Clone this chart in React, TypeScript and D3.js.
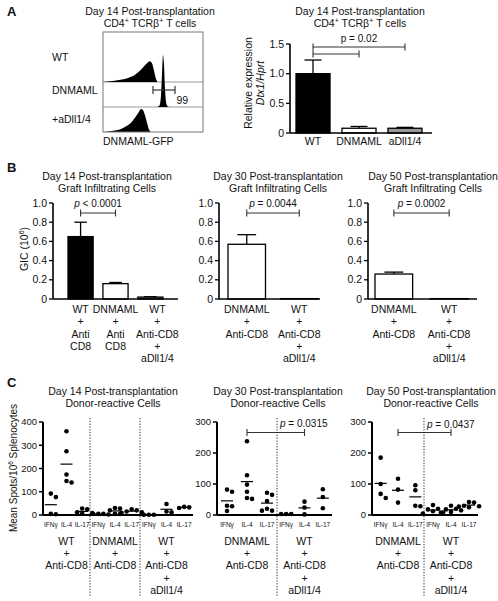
import React from 'react';
import * as d3 from 'd3';

const FONT = '"Liberation Sans", Arial, Helvetica, sans-serif';

// ---------------- Panel A: flow histograms ----------------
const flowSamples = ['WT', 'DNMAML', '+aDll1/4'];
const wtHistChannel = [0, 4, 10, 16, 22, 28, 32, 36, 40, 43, 45, 47, 49, 51, 53, 55];
const wtHistCount = [0, 1, 2, 4, 6, 10, 14, 20, 28, 34, 38, 40, 36, 22, 6, 0];
const dnHistChannel = [54, 56, 57, 58, 59, 60, 61, 62, 63, 64, 66];
const dnHistCount = [0, 2, 6, 22, 62, 100, 82, 36, 10, 3, 0];
const adHistChannel = [0, 5, 12, 18, 24, 28, 31, 34, 36, 38, 40, 42, 44, 46, 48];
const adHistCount = [0, 1, 3, 6, 12, 18, 25, 33, 39, 44, 42, 32, 18, 5, 0];
const gateChannels = [50, 72];
const gateLabel = '99';
const flowAxisLabel = 'DNMAML-GFP';

// ---------------- Panel A: Dtx1 expression ----------------
const aCategories = ['WT', 'DNMAML', 'aDll1/4'];
const aValues = [1.0, 0.08, 0.08];
const aErrors = [0.23, 0.03, 0.015];
const aTickValues = [0, 0.5, 1.0, 1.5];
const aTickLabels = ['0', '0.5', '1.0', '1.5'];
const aPValue = 'p = 0.02';

// ---------------- Panel B: graft infiltrating cells ----------------
const bTickValues = [0, 0.2, 0.4, 0.6, 0.8, 1.0];
const bTickLabels = ['0', '0.2', '0.4', '0.6', '0.8', '1.0'];
const b14Categories = ['WT+AntiCD8', 'DNMAML+AntiCD8', 'WT+AntiCD8+aDll'];
const b14Labels = [['WT', '+', 'Anti', 'CD8'], ['DNMAML', '+', 'Anti', 'CD8'], ['WT', '+', 'Anti-CD8', '+', 'aDll1/4']];
const b14Values = [0.65, 0.16, 0.02];
const b14Errors = [0.15, 0.012, 0.004];
const b30Categories = ['DNMAML+AntiCD8', 'WT+AntiCD8+aDll'];
const b30Labels = [['DNMAML', '+', 'Anti-CD8'], ['WT', '+', 'Anti-CD8', '+', 'aDll1/4']];
const b30Values = [0.57, 0.004];
const b30Errors = [0.1, 0];
const b50Categories = ['DNMAML+AntiCD8', 'WT+AntiCD8+aDll'];
const b50Labels = [['DNMAML', '+', 'Anti-CD8'], ['WT', '+', 'Anti-CD8', '+', 'aDll1/4']];
const b50Values = [0.26, 0.004];
const b50Errors = [0.02, 0];
const bPValues = ['< 0.0001', '= 0.0044', '= 0.0002'];

// ---------------- Panel C: ELISPOT ----------------
const cytokines = ['IFNγ', 'IL-4', 'IL-17'];
const c14Ticks = [0, 100, 200, 300, 400];
const c3050Ticks = [0, 100, 200, 300];
const c14Labels = [['WT', '+', 'Anti-CD8'], ['DNMAML', '+', 'Anti-CD8'], ['WT', '+', 'Anti-CD8', '+', 'aDll1/4']];
const c14WtAntiCD8 = [[77, 92, 5, 3], [360, 274, 174, 140, 146], [28, 24, 12, 8, 6]];
const c14DnAntiCD8 = [[2, 5, 5, 4], [28, 30, 20, 5, 4], [25, 20, 15, 12, 10]];
const c14WtAdll = [[1, 1, 1], [47, 12, 15], [35, 30, 33]];
const c30Labels = [['DNMAML', '+', 'Anti-CD8'], ['WT', '+', 'Anti-CD8', '+', 'aDll1/4']];
const c30DnAntiCD8 = [[75, 82, 30, 28, 13], [238, 128, 98, 75, 52, 55], [72, 65, 45, 20, 14, 14]];
const c30WtAdll = [[3, 3, 3], [43, 2, 24], [83, 22, 58]];
const c50Labels = [['DNMAML', '+', 'Anti-CD8'], ['WT', '+', 'Anti-CD8', '+', 'aDll1/4']];
const c50DnAntiCD8 = [[185, 100, 68, 55], [117, 82, 40], [96, 80, 28, 30]];
const c50WtAdll = [[32, 20, 18, 12, 8, 5], [30, 10, 15, 20, 18, 8], [42, 40, 30, 28, 25, 27]];
const cPValues = ['= 0.0315', '= 0.0437'];

// ---------------- helpers ----------------
function Title({ x, y, lines }: { x: number; y: number; lines: React.ReactNode[] }) {
  return (
    <g>
      {lines.map((l, i) => (
        <text key={i} x={x} y={y + i * 12} textAnchor="middle" dy="0.35em" fontSize={10.5}>{l}</text>
      ))}
    </g>
  );
}

function Bracket({ x1, x2, y }: { x1: number; x2: number; y: number }) {
  return (
    <g stroke="#333" strokeWidth={1.1}>
      <line x1={x1} x2={x2} y1={y} y2={y} />
      <line x1={x1} x2={x1} y1={y - 3.5} y2={y + 3.5} />
      <line x1={x2} x2={x2} y1={y - 3.5} y2={y + 3.5} />
    </g>
  );
}

type BarProps = {
  axisX: number; axisEnd: number; yBase: number; yTop: number; max: number;
  tickValues: number[]; tickLabels: string[];
  categories: string[]; values: number[]; errors: number[]; fills: string[];
  bandRange: [number, number]; padding: number;
  labels: string[][]; labelY: number; labelDy: number; labelDx?: number[];
  brackets: { from: number; to: number; y: number }[];
  pText: string; pY: number; italic: boolean;
};

function BarPanel(p: BarProps) {
  const y = d3.scaleLinear().domain([0, p.max]).range([p.yBase, p.yTop]);
  const x = d3.scaleBand<string>().domain(p.categories).range(p.bandRange).paddingInner(p.padding).paddingOuter(0);
  const bw = x.bandwidth();
  const cx = (i: number) => (x(p.categories[i]) as number) + bw / 2;
  const b0 = p.brackets[0];
  return (
    <g>
      {p.categories.map((c, i) => {
        const bx = x(c) as number;
        const top = y(p.values[i]);
        const errTop = y(p.values[i] + p.errors[i]);
        return (
          <g key={c}>
            {p.errors[i] > 0 && (
              <g stroke="#000" strokeWidth={1.3}>
                <line x1={bx + bw / 2} x2={bx + bw / 2} y1={top} y2={errTop} />
                <line x1={bx + bw / 2 - bw * 0.25} x2={bx + bw / 2 + bw * 0.25} y1={errTop} y2={errTop} />
              </g>
            )}
            <rect x={bx} y={top} width={bw} height={Math.max(0.01, p.yBase - top)} fill={p.fills[i]} stroke="#000" strokeWidth={1.3} />
          </g>
        );
      })}
      <line x1={p.axisX} x2={p.axisX} y1={p.yTop} y2={p.yBase} stroke="#000" strokeWidth={1.6} />
      <line x1={p.axisX} x2={p.axisEnd} y1={p.yBase} y2={p.yBase} stroke="#000" strokeWidth={1.6} />
      {p.tickValues.map((t, i) => (
        <g key={t}>
          <line x1={p.axisX - 4} x2={p.axisX} y1={y(t)} y2={y(t)} stroke="#000" strokeWidth={1.3} />
          <text x={p.axisX - 6} y={y(t)} dy="0.35em" textAnchor="end" fontSize={10.5}>{p.tickLabels[i]}</text>
        </g>
      ))}
      {p.labels.map((lines, i) => (
        <g key={i}>
          {lines.map((l, j) => (
            <text key={j} x={cx(i) + (p.labelDx ? p.labelDx[i] : 0)} y={p.labelY + j * p.labelDy} dy="0.35em" textAnchor="middle" fontSize={10.5}>{l}</text>
          ))}
        </g>
      ))}
      {p.brackets.map((b, i) => (
        <Bracket key={i} x1={cx(b.from)} x2={cx(b.to)} y={b.y} />
      ))}
      <text x={(cx(b0.from) + cx(b0.to)) / 2} y={p.pY} dy="0.35em" textAnchor="middle" fontSize={10}>
        {p.italic ? (<><tspan fontStyle="italic">p</tspan> {p.pText}</>) : p.pText}
      </text>
    </g>
  );
}

function swarm(values: number[], cx: number, y: (v: number) => number, r: number) {
  const placed: { x: number; y: number; v: number }[] = [];
  const sorted = [...values].sort((a, b) => b - a);
  const offsets = [0, 1, -1, 2, -2, 3, -3];
  for (const v of sorted) {
    const py = y(v);
    let px = cx;
    for (const o of offsets) {
      px = cx + o * r * 2.2;
      if (placed.every((q) => Math.hypot(q.x - px, q.y - py) >= r * 2.1)) break;
    }
    placed.push({ x: px, y: py, v });
  }
  return placed;
}

type DotProps = {
  bounds: number[]; yMax: number; ticks: number[]; groups: number[][][]; labels: string[][];
  bracket?: { from: [number, number]; to: [number, number]; y: number; text: string; textY: number };
};

function DotPanel(p: DotProps) {
  const yBase = 515, yTop = 422;
  const y = d3.scaleLinear().domain([0, p.yMax]).range([yBase, yTop]);
  const axisX = p.bounds[0];
  const axisEnd = p.bounds[p.bounds.length - 1];
  const subs = p.groups.map((_, g) =>
    d3.scalePoint<string>().domain(cytokines).range([p.bounds[g], p.bounds[g + 1]]).padding(0.5)
  );
  const r = 2.3;
  return (
    <g>
      {p.bounds.slice(1, -1).map((bx) => (
        <line key={bx} x1={bx} x2={bx} y1={418} y2={596} stroke="#333" strokeWidth={1} strokeDasharray="1.3,1.5" />
      ))}
      {p.groups.map((grp, g) => (
        <g key={g}>
          {grp.map((vals, k) => {
            const cx = subs[g](cytokines[k]) as number;
            const pts = swarm(vals, cx, y, r);
            const m = d3.mean(vals) as number;
            return (
              <g key={k}>
                {pts.map((pt, i) => (<circle key={i} cx={pt.x} cy={pt.y} r={r} fill="#000" />))}
                <line x1={cx - 6} x2={cx + 6} y1={y(m)} y2={y(m)} stroke="#000" strokeWidth={1.2} />
                <text x={cx} y={525} dy="0.35em" textAnchor="middle" fontSize={6.5}>{cytokines[k]}</text>
              </g>
            );
          })}
          {p.labels[g].map((l, j) => (
            <text key={j} x={(p.bounds[g] + p.bounds[g + 1]) / 2} y={541 + j * 12.4} dy="0.35em" textAnchor="middle" fontSize={10.5}>{l}</text>
          ))}
        </g>
      ))}
      <line x1={axisX} x2={axisX} y1={yTop} y2={yBase} stroke="#000" strokeWidth={2} />
      <line x1={axisX} x2={axisEnd} y1={yBase} y2={yBase} stroke="#000" strokeWidth={2} />
      {p.ticks.map((t) => (
        <g key={t}>
          <line x1={axisX - 4} x2={axisX} y1={y(t)} y2={y(t)} stroke="#000" strokeWidth={1.5} />
          <text x={axisX - 6} y={y(t)} dy="0.35em" textAnchor="end" fontSize={9.5}>{String(t)}</text>
        </g>
      ))}
      {p.bracket && (() => {
        const b = p.bracket!;
        const x1 = subs[b.from[0]](cytokines[b.from[1]]) as number;
        const x2 = subs[b.to[0]](cytokines[b.to[1]]) as number;
        return (
          <g>
            <Bracket x1={x1} x2={x2} y={b.y} />
            <text x={p.bounds[1] + 3} y={b.textY} dy="0.35em" fontSize={10}>
              <tspan fontStyle="italic">p</tspan> {b.text}
            </text>
          </g>
        );
      })()}
    </g>
  );
}

function FlowPanel() {
  const x0 = 103, x1 = 203, top = 32, bottom = 132;
  const bases = [82, 107, 132];
  const fx = d3.scaleLinear().domain([0, 100]).range([x0, x1]);
  const fh = d3.scaleLinear().domain([0, 100]).range([0, 52]);
  const hists: [number[], number[]][] = [
    [wtHistChannel, wtHistCount],
    [dnHistChannel, dnHistCount],
    [adHistChannel, adHistCount],
  ];
  const labelY = [57, 90, 119];
  const gy = 90;
  return (
    <g>
      <line x1={x0} x2={x1} y1={bases[0]} y2={bases[0]} stroke="#999" strokeWidth={1} />
      <line x1={x0} x2={x1} y1={bases[1]} y2={bases[1]} stroke="#999" strokeWidth={1} />
      {hists.map(([ch, cnt], i) => {
        const base = bases[i];
        const area = d3.area<number>()
          .x((_, j) => fx(ch[j]))
          .y0(base)
          .y1((n) => base - fh(n))
          .curve(d3.curveMonotoneX);
        return <path key={i} d={area(cnt) || ''} fill="#000" />;
      })}
      <rect x={x0} y={top} width={x1 - x0} height={bottom - top} fill="none" stroke="#777" strokeWidth={1} />
      <g stroke="#333" strokeWidth={1.2}>
        <line x1={fx(gateChannels[0])} x2={fx(gateChannels[1])} y1={gy} y2={gy} />
        <line x1={fx(gateChannels[0])} x2={fx(gateChannels[0])} y1={gy - 4} y2={gy + 4} />
        <line x1={fx(gateChannels[1])} x2={fx(gateChannels[1])} y1={gy - 4} y2={gy + 4} />
      </g>
      <text x={fx(gateChannels[1]) + 1.5} y={100} dy="0.35em" fontSize={10.5}>{gateLabel}</text>
      {flowSamples.map((s, i) => (
        <text key={s} x={52} y={labelY[i]} dy="0.35em" fontSize={10.5}>{s}</text>
      ))}
      <text x={x0} y={141} dy="0.35em" fontSize={10.5}>{flowAxisLabel}</text>
    </g>
  );
}

export default function App() {
  const cd4Title = (
    <>
      CD4<tspan dy={-4} fontSize={7}>+</tspan>
      <tspan dy={4}> TCRβ</tspan>
      <tspan dy={-4} fontSize={7}>+</tspan>
      <tspan dy={4}> T cells</tspan>
    </>
  );
  return (
    <svg width={498} height={601} style={{ position: 'absolute', left: 0, top: 0 }} fontFamily={FONT} fill="#111">
      <rect width={498} height={601} fill="#fff" />
      {/* Panel letters */}
      <text x={7} y={11} dy="0.35em" fontSize={13} fontWeight="bold">A</text>
      <text x={7} y={167} dy="0.35em" fontSize={13} fontWeight="bold">B</text>
      <text x={7} y={382} dy="0.35em" fontSize={13} fontWeight="bold">C</text>

      {/* Panel A */}
      <Title x={150} y={11} lines={['Day 14 Post-transplantation', cd4Title]} />
      <FlowPanel />
      <Title x={360} y={11} lines={['Day 14 Post-transplantation', cd4Title]} />
      <text transform="translate(248,83) rotate(-90)" textAnchor="middle" dy="0.35em" fontSize={10.5}>Relative expression</text>
      <text transform="translate(260,83) rotate(-90)" textAnchor="middle" dy="0.35em" fontSize={10.5} fontStyle="italic">Dtx1/Hprt</text>
      <BarPanel
        axisX={290} axisEnd={432} yBase={133} yTop={44} max={1.5}
        tickValues={aTickValues} tickLabels={aTickLabels}
        categories={aCategories} values={aValues} errors={aErrors} fills={['#000', '#fff', '#999']}
        bandRange={[296, 422]} padding={0.26}
        labels={aCategories.map((c) => [c])} labelY={141} labelDy={12}
        brackets={[{ from: 0, to: 2, y: 47 }, { from: 0, to: 1, y: 54 }]}
        pText={aPValue} pY={38} italic={false}
      />

      {/* Panel B */}
      <Title x={107} y={176} lines={['Day 14 Post-transplantation', 'Graft Infiltrating Cells']} />
      <Title x={278} y={176} lines={['Day 30 Post-transplantation', 'Graft Infiltrating Cells']} />
      <Title x={433} y={176} lines={['Day 50 Post-transplantation', 'Graft Infiltrating Cells']} />
      <text transform="translate(24,249) rotate(-90)" textAnchor="middle" dy="0.35em" fontSize={10.5}>
        GIC (10<tspan dy={-4} fontSize={7}>6</tspan><tspan dy={4}>)</tspan>
      </text>
      <BarPanel
        axisX={53} axisEnd={178} yBase={299} yTop={203} max={1}
        tickValues={bTickValues} tickLabels={bTickLabels}
        categories={b14Categories} values={b14Values} errors={b14Errors} fills={['#000', '#fff', '#888']}
        bandRange={[68, 163]} padding={0.28}
        labels={b14Labels} labelY={309.5} labelDy={12.2} labelDx={[0, 0, 7]}
        brackets={[{ from: 0, to: 1, y: 213 }]}
        pText={bPValues[0]} pY={203} italic={true}
      />
      <BarPanel
        axisX={219} axisEnd={320} yBase={299} yTop={203} max={1}
        tickValues={bTickValues} tickLabels={bTickLabels}
        categories={b30Categories} values={b30Values} errors={b30Errors} fills={['#fff', '#000']}
        bandRange={[228, 318]} padding={0.286}
        labels={b30Labels} labelY={309.5} labelDy={12.2}
        brackets={[{ from: 0, to: 1, y: 213 }]}
        pText={bPValues[1]} pY={203} italic={true}
      />
      <BarPanel
        axisX={368} axisEnd={477} yBase={299} yTop={203} max={1}
        tickValues={bTickValues} tickLabels={bTickLabels}
        categories={b50Categories} values={b50Values} errors={b50Errors} fills={['#fff', '#000']}
        bandRange={[375, 468]} padding={0.32}
        labels={b50Labels} labelY={309.5} labelDy={12.2}
        brackets={[{ from: 0, to: 1, y: 213 }]}
        pText={bPValues[2]} pY={203} italic={true}
      />

      {/* Panel C */}
      <Title x={113} y={391} lines={['Day 14 Post-transplantation', 'Donor-reactive Cells']} />
      <Title x={278} y={391} lines={['Day 30 Post-transplantation', 'Donor-reactive Cells']} />
      <Title x={431} y={391} lines={['Day 50 Post-transplantation', 'Donor-reactive Cells']} />
      <text transform="translate(13,468) rotate(-90)" textAnchor="middle" dy="0.35em" fontSize={10}>
        Mean Spots/10<tspan dy={-3.5} fontSize={6.5}>6</tspan><tspan dy={3.5}> Splenocytes</tspan>
      </text>
      <DotPanel
        bounds={[43, 90, 140, 193]} yMax={400} ticks={c14Ticks}
        groups={[c14WtAntiCD8, c14DnAntiCD8, c14WtAdll]} labels={c14Labels}
      />
      <DotPanel
        bounds={[217, 277, 332]} yMax={300} ticks={c3050Ticks}
        groups={[c30DnAntiCD8, c30WtAdll]} labels={c30Labels}
        bracket={{ from: [0, 1], to: [1, 1], y: 432.5, text: cPValues[0], textY: 423 }}
      />
      <DotPanel
        bounds={[372, 424, 478]} yMax={300} ticks={c3050Ticks}
        groups={[c50DnAntiCD8, c50WtAdll]} labels={c50Labels}
        bracket={{ from: [0, 1], to: [1, 1], y: 432.5, text: cPValues[1], textY: 424 }}
      />
    </svg>
  );
}
